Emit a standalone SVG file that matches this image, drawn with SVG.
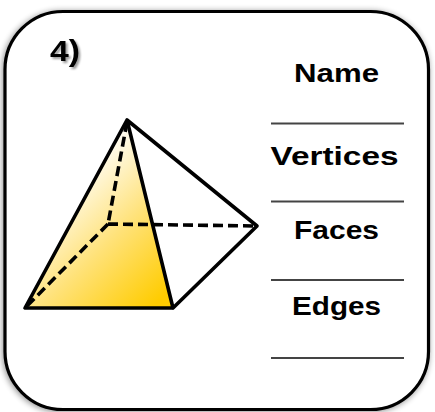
<svg xmlns="http://www.w3.org/2000/svg" width="435" height="412" viewBox="0 0 435 412">
  <style>
    .lbl { font-family: "Liberation Sans", Arial, sans-serif; font-weight: bold; font-size: 26px; fill: #000; }
    .blank { stroke: #444; stroke-width: 2; }
    .edge { stroke: #000; stroke-width: 3.6; stroke-linecap: round; stroke-linejoin: round; fill: none; }
    .hidden { stroke: #000; stroke-width: 3.6; stroke-dasharray: 10 5; fill: none; }
  </style>
  <defs>
    <filter id="shadow" x="-10%" y="-10%" width="120%" height="120%">
      <feGaussianBlur in="SourceAlpha" stdDeviation="3"/>
      <feOffset dx="-1" dy="1" result="b"/>
      <feComponentTransfer><feFuncA type="linear" slope="0.45"/></feComponentTransfer>
      <feMerge><feMergeNode/><feMergeNode in="SourceGraphic"/></feMerge>
    </filter>
    <filter id="tshadow" x="-30%" y="-30%" width="160%" height="160%">
      <feGaussianBlur in="SourceAlpha" stdDeviation="1.2"/>
      <feOffset dx="1.5" dy="1.5"/>
      <feComponentTransfer><feFuncA type="linear" slope="0.4"/></feComponentTransfer>
      <feMerge><feMergeNode/><feMergeNode in="SourceGraphic"/></feMerge>
    </filter>
    <linearGradient id="gold" gradientUnits="userSpaceOnUse" x1="60" y1="180" x2="168" y2="292">
      <stop offset="0" stop-color="#FFFFFF"/>
      <stop offset="0.5" stop-color="#FFE27A"/>
      <stop offset="1" stop-color="#FFCC00"/>
    </linearGradient>
  </defs>

  <rect width="435" height="412" fill="#fff"/>

  <g id="frame" filter="url(#shadow)">
    <rect x="5" y="11.5" width="423.5" height="398" rx="58" ry="58" fill="#fff" stroke="#000" stroke-width="3.2"/>
  </g>

  <g id="number" filter="url(#tshadow)">
    <text class="lbl" x="50" y="61" textLength="30" lengthAdjust="spacingAndGlyphs" style="font-size:30px">4)</text>
  </g>

  <g id="pyramid">
    <polygon points="127,120 25,308 173,308" fill="url(#gold)"/>
    <path class="hidden" d="M127,122 L108,224 M108,224 L27,306 M108,224 L257,226"/>
    <path class="edge" d="M127,120 L25,308 L173,308 Z M127,120 L257,226 L173,308"/>
  </g>

  <g id="name">
    <text class="lbl" x="294" y="82" textLength="85" lengthAdjust="spacingAndGlyphs">Name</text>
    <line class="blank" x1="271" y1="123.5" x2="404" y2="123.5"/>
  </g>
  <g id="vertices">
    <text class="lbl" x="270.5" y="164.5" textLength="128" lengthAdjust="spacingAndGlyphs">Vertices</text>
    <line class="blank" x1="271" y1="201.5" x2="404" y2="201.5"/>
  </g>
  <g id="faces">
    <text class="lbl" x="294" y="238.5" textLength="85" lengthAdjust="spacingAndGlyphs">Faces</text>
    <line class="blank" x1="271" y1="280" x2="404" y2="280"/>
  </g>
  <g id="edges">
    <text class="lbl" x="292" y="315" textLength="89" lengthAdjust="spacingAndGlyphs">Edges</text>
    <line class="blank" x1="271" y1="358" x2="404" y2="358"/>
  </g>

  <g id="connectors"/>
</svg>
